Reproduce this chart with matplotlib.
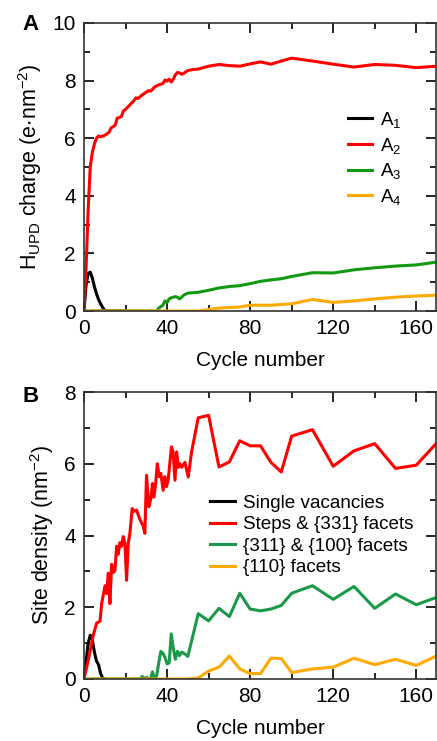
import matplotlib
matplotlib.use("Agg")
import matplotlib.pyplot as plt
from matplotlib.ticker import MultipleLocator

plt.rcParams['font.family'] = ['Liberation Sans', 'DejaVu Sans']
plt.rcParams['mathtext.fontset'] = 'custom'
plt.rcParams['mathtext.rm'] = 'Liberation Sans'
plt.rcParams['mathtext.it'] = 'Liberation Sans:italic'
plt.rcParams['mathtext.default'] = 'regular'

# ---------------- Panel A data ----------------
a1_x = [0, 1, 2, 3, 4, 5, 6, 7, 8, 9, 10, 11, 15, 20]
a1_y = [0, 0.9, 1.3, 1.35, 1.15, 0.85, 0.6, 0.4, 0.25, 0.12, 0.02, 0, 0, 0]

a2_x = [0, 1, 2, 3, 4, 5, 6, 7, 8, 10, 12, 13, 14, 15, 16, 17, 18, 19, 20, 22, 24, 25, 26, 28,
        30, 31, 32, 33, 34, 36, 38, 39, 40, 41, 42, 43, 44, 45, 46, 47, 48, 50, 52, 55, 60, 65,
        70, 75, 80, 85, 90, 95, 100, 110, 120, 130, 140, 150, 160, 170]
a2_y = [0, 1.5, 3.5, 5.0, 5.5, 5.8, 6.0, 6.08, 6.05, 6.1, 6.2, 6.35, 6.4, 6.45, 6.7, 6.72, 6.75,
        6.95, 7.0, 7.15, 7.3, 7.4, 7.38, 7.5, 7.6, 7.65, 7.63, 7.7, 7.78, 7.85, 7.9, 8.02, 7.98,
        8.05, 7.95, 8.05, 8.2, 8.28, 8.27, 8.22, 8.25, 8.35, 8.38, 8.4, 8.5, 8.56, 8.52, 8.5, 8.58,
        8.65, 8.57, 8.68, 8.78, 8.68, 8.57, 8.47, 8.56, 8.53, 8.45, 8.5]

a3_x = [0, 35, 36, 37, 38, 39, 40, 41, 42, 43, 44, 45, 46, 47, 48, 50, 55, 60, 65, 70, 75, 80,
        85, 90, 95, 100, 110, 120, 130, 140, 150, 160, 170]
a3_y = [0, 0, 0.1, 0.15, 0.2, 0.35, 0.3, 0.42, 0.46, 0.48, 0.5, 0.48, 0.42, 0.48, 0.55, 0.62,
        0.65, 0.72, 0.8, 0.85, 0.88, 0.95, 1.03, 1.08, 1.12, 1.2, 1.33, 1.32, 1.43, 1.5, 1.56,
        1.6, 1.7]

a4_x = [0, 55, 60, 65, 70, 75, 80, 90, 100, 110, 120, 130, 140, 150, 160, 170]
a4_y = [0, 0, 0.05, 0.1, 0.12, 0.14, 0.2, 0.2, 0.25, 0.4, 0.3, 0.35, 0.42, 0.48, 0.52, 0.55]

# ---------------- Panel B data ----------------
b1_x = [0, 1, 2, 3, 4, 5, 6, 7, 8, 9, 10]
b1_y = [0, 0.5, 1.0, 1.22, 1.1, 0.75, 0.5, 0.4, 0.15, 0.03, 0]

b2_x = [0, 2.1, 4.5, 6.1, 7.7, 8.5, 10.1, 10.9, 11.7, 12.5,
        13.3, 14.1, 14.9, 15.7, 16.5, 17.3, 18.1, 18.9, 19.7, 20.5,
        21.3, 22.1, 23.2, 24.0, 25.3, 26.9, 28.5, 29.3, 30.1, 31.2,
        32.2, 33.0, 33.7, 34.5, 35.3, 36.2, 37.0, 38.1, 38.9, 39.7,
        40.5, 41.3, 42.1, 42.9, 43.8, 44.6, 45.4, 46.2, 47.0, 48.6,
        50.2, 51.8, 55, 60, 65, 70, 75, 80, 85, 90,
        95, 100, 110, 120, 130, 140, 150, 160, 170]
b2_y = [0, 0.54, 1.23, 1.56, 1.61, 2.1, 2.6, 2.38, 2.95, 2.1,
        3.2, 2.97, 3.02, 3.7, 3.48, 3.8, 3.7, 3.97, 3.78, 2.75,
        3.78, 4.06, 4.75, 4.67, 4.71, 4.45, 4.26, 4.06, 5.68, 4.8,
        5.03, 5.45, 5.07, 5.45, 6.0, 5.64, 5.73, 5.26, 5.64, 5.36,
        5.54, 6.0, 6.47, 6.33, 5.54, 6.33, 5.9, 6.0, 5.9, 6.04,
        5.63, 6.33, 7.28, 7.35, 5.91, 6.05, 6.64, 6.5, 6.5, 6.04,
        5.77, 6.77, 6.95, 5.93, 6.36, 6.56, 5.87, 5.96, 6.59]

b3_x = [0, 27, 28, 29, 30, 31, 32, 33, 34, 35, 36, 37, 38, 39, 40, 41, 42, 43, 44, 45, 46, 47,
        48, 49, 50, 55, 60, 65, 70, 75, 80, 85, 90, 95, 100, 110, 120, 130, 140, 150, 160, 170]
b3_y = [0, 0, 0.07, 0, 0.05, 0, 0, 0.2, 0, 0.1, 0.45, 0.77, 0.72, 0.6, 0.42, 0.45, 1.26, 0.85,
        0.55, 0.77, 0.65, 0.75, 0.72, 0.68, 0.63, 1.82, 1.62, 1.97, 1.74, 2.39, 1.95, 1.9, 1.95,
        2.05, 2.39, 2.6, 2.22, 2.58, 1.97, 2.37, 2.07, 2.28]

b4_x = [0, 50, 55, 60, 65, 70, 75, 80, 85, 90, 95, 100, 110, 120, 130, 140, 150, 160, 170]
b4_y = [0, 0, 0.03, 0.22, 0.33, 0.64, 0.28, 0.15, 0.15, 0.58, 0.57, 0.18, 0.28, 0.33, 0.58,
        0.4, 0.55, 0.38, 0.65]

labels_a = ['A$_1$', 'A$_2$', 'A$_3$', 'A$_4$']
labels_b = ['Single vacancies', 'Steps & {331} facets', '{311} & {100} facets', '{110} facets']
colors_a = ['#000000', '#ff0000', '#129912', '#ffaa00']
colors_b = ['#000000', '#ff0000', '#1a9a48', '#ffaa00']

W, H = 437, 741
fig = plt.figure(figsize=(W / 100, H / 100), dpi=100)


def px_axes(l, t, r, b):
    return fig.add_axes([l / W, 1 - b / H, (r - l) / W, (b - t) / H])


axA = px_axes(84, 23, 436, 311)
axB = px_axes(84, 392, 436, 679)

lw = 2.2
for (x, y, c, lab) in zip([a1_x, a2_x, a3_x, a4_x], [a1_y, a2_y, a3_y, a4_y], colors_a, labels_a):
    axA.plot(x, y, color=c, lw=lw, label=lab)
for (x, y, c, lab) in zip([b1_x, b2_x, b3_x, b4_x], [b1_y, b2_y, b3_y, b4_y], colors_b, labels_b):
    axB.plot(x, y, color=c, lw=lw, label=lab)

for ax, ymax in [(axA, 10), (axB, 8)]:
    ax.set_xlim(0, 169.5)
    ax.set_ylim(0, ymax)
    ax.xaxis.set_major_locator(MultipleLocator(40))
    ax.xaxis.set_minor_locator(MultipleLocator(20))
    ax.yaxis.set_major_locator(MultipleLocator(2))
    ax.yaxis.set_minor_locator(MultipleLocator(1))
    ax.tick_params(which='both', direction='in', top=True, right=True, labelsize=15, width=1.2)
    ax.tick_params(which='major', length=7, pad=6)
    ax.tick_params(which='minor', length=4)
    for s in ax.spines.values():
        s.set_linewidth(1.2)
        s.set_color('#333333')
    ax.set_xlabel('Cycle number', fontsize=15, labelpad=9)

axA.set_ylabel('H$_{UPD}$ charge (e$\\cdot$nm$^{-2}$)', fontsize=15.5, labelpad=6)
axB.set_ylabel('Site density (nm$^{-2}$)', fontsize=15.5, labelpad=6)

axA.legend(loc='upper left', bbox_to_anchor=(0.73, 0.724), frameon=False, fontsize=13.5,
           handlelength=1.25, handletextpad=0.45, labelspacing=0.3, borderaxespad=0)
axB.legend(loc='upper left', bbox_to_anchor=(0.337, 0.668), frameon=False, fontsize=13.6,
           handlelength=1.3, handletextpad=0.45, labelspacing=0.22, borderaxespad=0)

fig.text(22 / W, 1 - 25 / H, 'A', fontsize=16, fontweight='bold', va='center', ha='left')
fig.text(22 / W, 1 - 396 / H, 'B', fontsize=16, fontweight='bold', va='center', ha='left')

fig.savefig('out.png', dpi=100)
